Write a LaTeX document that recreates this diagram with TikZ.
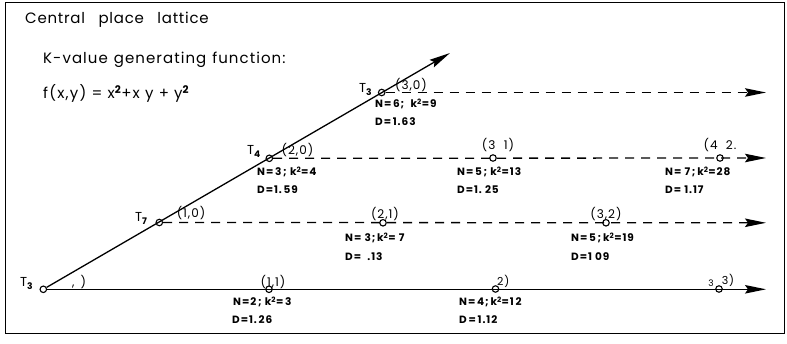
\documentclass[tikz,border=0pt]{standalone}
\usepackage{fontspec}
\setmainfont{Poppins}
\newfontfamily\headf[LetterSpace=5]{Poppins}
\newfontfamily\headk[LetterSpace=7]{Poppins}
\newfontfamily\headfx[LetterSpace=8]{Poppins}
\newfontfamily\infof[LetterSpace=9]{Poppins}
\newfontfamily\crdf[LetterSpace=8]{Poppins}
\usetikzlibrary{arrows.meta}
\begin{document}
\begin{tikzpicture}[x=1pt,y=-1pt,
  pnt/.style={circle,draw,line width=1.1pt,inner sep=0pt,minimum size=6.5pt},
  arr/.style={line width=1.3pt,-{Stealth[length=21pt,width=8.5pt,inset=3pt]}},
  dsh/.style={arr,dash pattern=on 9pt off 7pt},
  info/.style={font=\infof\fontsize{10.5}{11}\selectfont\bfseries,anchor=base west,inner sep=0pt},
  crd/.style={font=\crdf\fontsize{12}{13}\selectfont,anchor=base,inner sep=0pt},
  tlab/.style={font=\fontsize{13}{14}\selectfont,anchor=base west,inner sep=0pt},
  head/.style={font=\fontsize{15}{16}\selectfont,anchor=base west,inner sep=0pt}]
\useasboundingbox (0,0) rectangle (787,344);
\draw[line width=1pt] (5,3) rectangle (784,334);
% header texts
\node[head] (title) at (25,24) {\headf Central\hspace{0.9em}place\hspace{0.9em}lattice};
\node[head] (kval) at (43,64) {\headk K-value\hspace{0.4em}generating\hspace{0.4em}function:};
\node[head] (fxy) at (43,99) {\headfx f(x,y) =\ x\textsuperscript{\bfseries 2}+x y + y\textsuperscript{\bfseries 2}};
% lattice points
\node[pnt] (O) at (43.3,289.3) {};
\node[pnt] (p10) at (159.3,222.5) {};
\node[pnt] (p20) at (269.3,158.3) {};
\node[pnt] (p30) at (381.7,92.5) {};
\node[pnt] (p11) at (269,289.3) {};
\node[pnt] (p22) at (495.5,289) {};
\node[pnt] (p33) at (719,289) {};
\node[pnt] (p21) at (383,222.8) {};
\node[pnt] (p32) at (606,222.8) {};
\node[pnt] (p31) at (493,158) {};
\node[pnt] (p42) at (720,158) {};
\coordinate (dtip) at (450,53);
\coordinate (e0) at (766,289.3);
\coordinate (e1) at (766,222.8);
\coordinate (e2) at (766,158);
\coordinate (e3) at (766,92.5);
% connectors
\draw[arr] (O) -- (dtip);
\draw[arr] (O) -- (e0);
\draw[dsh] (p10) -- (e1);
\draw[dsh] (p20) -- (e2);
\draw[dsh] (p30) -- (e3);
% T labels
\node[tlab] (t0) at (20,287) {T\textsubscript{\bfseries 3}};
\node[tlab] (t7) at (135,222) {T\textsubscript{\bfseries 7}};
\node[tlab] (t4) at (247,155) {T\textsubscript{\bfseries 4}};
\node[tlab] (t3) at (359,93) {T\textsubscript{\bfseries 3}};
% coordinate labels
\node[crd,anchor=base west] (c00) at (72,287) {,\hspace{0.5em})};
\node[crd] (c10) at (191,218) {(1,0)};
\node[crd] (c20) at (297.5,155) {(2,0)};
\node[crd] (c30) at (411,90) {(3,0)};
\node[crd] (c11) at (273,287) {(1,1)};
\node[crd,anchor=base west] (c22) at (497,286) {\fontsize{11}{12}\selectfont 2)};
\node[crd] (c33a) at (711,287) {\fontsize{9}{10}\selectfont 3};
\node[crd] (c33b) at (728,285) {\fontsize{11}{12}\selectfont 3)};
\node[crd] (c21) at (385,219) {(2,1)};
\node[crd] (c32) at (606,219) {(3,2)};
\node[crd] (c31) at (498,150) {(3\ \ 1)};
\node[crd] (c42) at (720,150) {(4\ \ 2.};
% N / D labels
\node[info] (n30) at (375,108) {N=\,6;\ \ k\textsuperscript{2}=9};
\node[info] (d30) at (375,126) {D=\,1.63};
\node[info] (n20) at (257,176) {N=\,3\,;\ k\textsuperscript{2}=4};
\node[info] (d20) at (257,193.5) {D=1.\,59};
\node[info] (n31) at (457,176) {N=\,5\,;\ k\textsuperscript{2}=13};
\node[info] (d31) at (457,193.5) {D=1.\ 25};
\node[info] (n42) at (665,176) {N=\ 7\,;\,k\textsuperscript{2}=28};
\node[info] (d42) at (665,193.5) {D=\ 1.17};
\node[info] (n21) at (345,242) {N=\ 3;\,k\textsuperscript{2}=\ 7};
\node[info] (d21) at (345,261) {D=\ \ .13};
\node[info] (n32) at (571,242) {N=\,5\,;\,k\textsuperscript{2}=19};
\node[info] (d32) at (571,261) {D=1\ 09};
\node[info] (n11) at (233,306) {N=2\,;\ k\textsuperscript{2}=\,3};
\node[info] (d11) at (232,324) {D=1.\,26};
\node[info] (n22) at (459,306) {N=\,4;\,k\textsuperscript{2}=1\,2};
\node[info] (d22) at (459,324) {D\,=\,1.12};
\end{tikzpicture}
\end{document}
